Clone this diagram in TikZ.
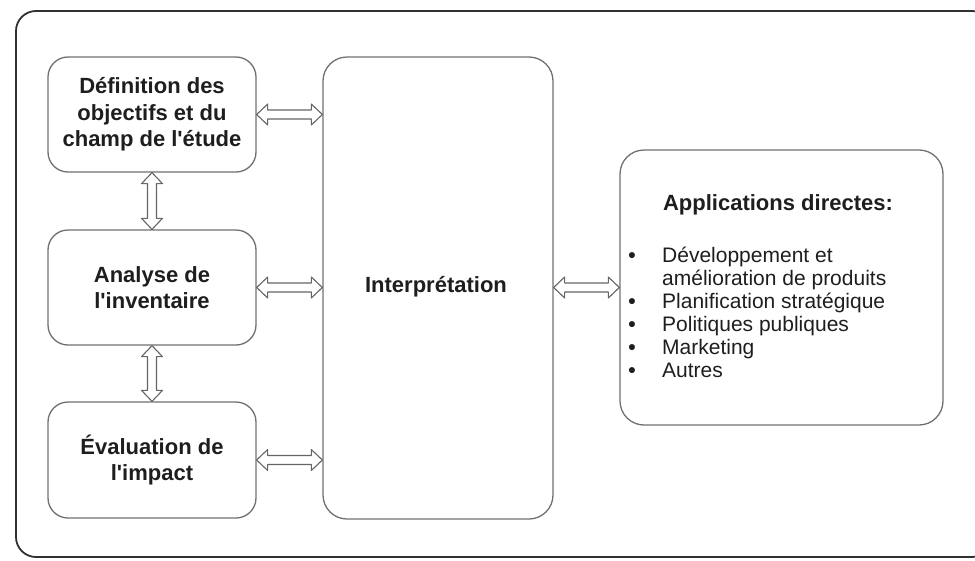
\documentclass[tikz,border=0pt]{standalone}
\usepackage{fontspec}
\setmainfont{Liberation Sans}[Ligatures=TeXOff]
\usetikzlibrary{calc}
\definecolor{txt}{HTML}{1E1E1E}
\definecolor{boxline}{HTML}{707070}
\definecolor{frameline}{HTML}{303030}
\def\ah{11}
\def\aw{10.5}
\def\as{4.5}
\newcommand\hollowh[2]{%
  \draw[arrowbox] (#1) -- ++(\ah,-\aw) -- ++(0,\aw-\as) -- ($(#2)+(-\ah,-\as)$) -- ++(0,\as-\aw) -- (#2)
    -- ++(-\ah,\aw) -- ++(0,\as-\aw) -- ($(#1)+(\ah,\as)$) -- ++(0,\aw-\as) -- cycle;}
\newcommand\hollowv[2]{%
  \draw[arrowbox] (#1) -- ++(-\aw,\ah) -- ++(\aw-\as,0) -- ($(#2)+(-\as,-\ah)$) -- ++(\as-\aw,0) -- (#2)
    -- ++(\aw,-\ah) -- ++(\as-\aw,0) -- ($(#1)+(\as,\ah)$) -- ++(\aw-\as,0) -- cycle;}
\tikzset{
  stagebox/.style={draw=boxline, line width=1.3pt, rounded corners=20pt, inner sep=0pt,
    text=txt, align=center, font=\fontsize{22}{26.5}\selectfont\bfseries},
  bigbox/.style={draw=boxline, line width=1.3pt, rounded corners=24pt, inner sep=0pt},
  arrowbox/.style={draw=boxline!90!black, line width=1.1pt, fill=white, line join=round},
  frame/.style={draw=frameline, line width=1.8pt, rounded corners=20pt},
  listtxt/.style={anchor=base west, text=txt, inner sep=0pt, font=\fontsize{21}{23}\selectfont},
  bullet/.style={anchor=base, text=txt, inner sep=0pt, font=\fontsize{21}{23}\selectfont\bfseries},
}
\begin{document}
\begin{tikzpicture}[x=1pt,y=-1pt]
\useasboundingbox (0,0) rectangle (975,560);
\draw[frame] (16,11) rectangle (992,557);

\node[stagebox, minimum width=208pt, minimum height=115pt] (b1) at (152,114.5)
  {Définition des\\objectifs et du\\champ de l'étude};
\node[stagebox, minimum width=208pt, minimum height=115pt] (b2) at (152,287.5)
  {Analyse de\\l'inventaire};
\node[stagebox, minimum width=208pt, minimum height=116pt] (b3) at (152,460)
  {Évaluation de\\l'impact};
\node[bigbox, minimum width=230pt, minimum height=462pt] (int) at (438,288) {};
\node[text=txt, font=\fontsize{22}{26}\selectfont\bfseries, inner sep=0pt] (inttxt) at (436,287) {Interprétation};
\node[bigbox, minimum width=323pt, minimum height=275pt] (app) at (781.5,287.5) {};

\node[anchor=base, text=txt, inner sep=0pt, font=\fontsize{22}{24}\selectfont\bfseries] (apptitle) at (778,210) {Applications directes:};
\node[bullet] (u1) at (632,262) {•};
\node[listtxt] (l1) at (662,262) {Développement et};
\node[listtxt] (l1b) at (662,285) {amélioration de produits};
\node[bullet] (u2) at (632,308) {•};
\node[listtxt] (l2) at (662,308) {Planification stratégique};
\node[bullet] (u3) at (632,331) {•};
\node[listtxt] (l3) at (662,331) {Politiques publiques};
\node[bullet] (u4) at (632,354) {•};
\node[listtxt] (l4) at (662,354) {Marketing};
\node[bullet] (u5) at (632,377) {•};
\node[listtxt] (l5) at (662,377) {Autres};

\hollowh{b1.east}{b1.east -| int.west}
\hollowh{b2.east}{b2.east -| int.west}
\hollowh{b3.east}{b3.east -| int.west}
\hollowh{int.east |- app.west}{app.west}
\hollowv{b1.south}{b2.north}
\hollowv{b2.south}{b3.north}
\end{tikzpicture}
\end{document}
